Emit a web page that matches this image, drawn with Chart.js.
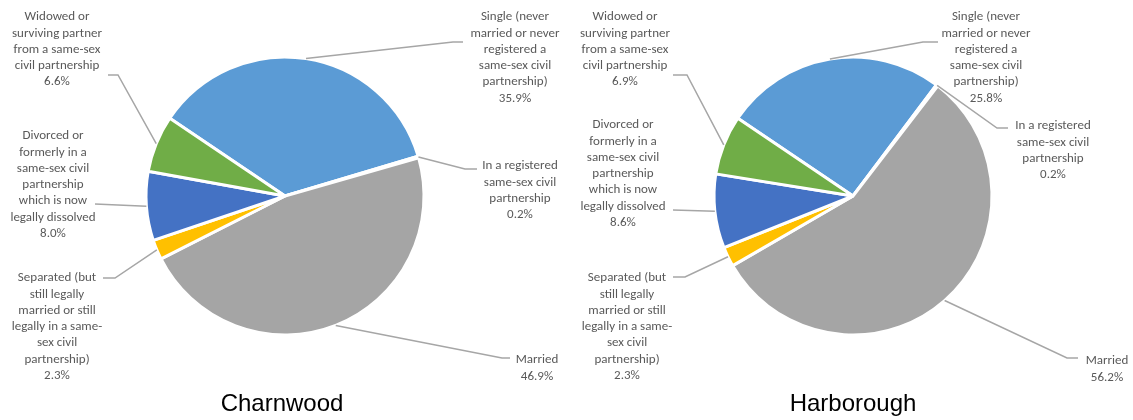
<!DOCTYPE html>
<html>
<head>
<meta charset="utf-8">
<script src="https://cdn.jsdelivr.net/npm/chart.js@4/dist/chart.umd.min.js"></script>
<style>
  html, body { margin: 0; padding: 0; background: #fff; }
  #wrap { position: relative; width: 1133px; height: 420px; overflow: hidden; }
  .pane { position: absolute; top: 0; height: 420px; }
  .pane canvas { display: block; }
  .title {
    position: absolute; top: 389px; width: 300px; text-align: center;
    font: 24px "Liberation Sans", Arial, sans-serif; color: #000;
  }
</style>
</head>
<body>
<div id="wrap">
  <div class="pane" style="left:0;width:566px"><canvas id="charnwood" width="566" height="420"></canvas></div>
  <div class="pane" style="left:566px;width:567px"><canvas id="harborough" width="567" height="420"></canvas></div>
  <div class="title" style="left:132px">Charnwood</div>
  <div class="title" style="left:703px">Harborough</div>
</div>
<script>
// Marital status categories (label lines as they wrap beside the pie)
const categories = [
  ['Single (never', 'married or never', 'registered a', 'same-sex civil', 'partnership)'],
  ['In a registered', 'same-sex civil', 'partnership'],
  ['Married'],
  ['Separated (but', 'still legally', 'married or still', 'legally in a same-', 'sex civil', 'partnership)'],
  ['Divorced or', 'formerly in a', 'same-sex civil', 'partnership', 'which is now', 'legally dissolved'],
  ['Widowed or', 'surviving partner', 'from a same-sex', 'civil partnership']
];
// percentage of residents aged 16+
const charnwoodValues = [35.9, 0.2, 46.9, 2.3, 8.0, 6.6];
const harboroughValues = [25.8, 0.2, 56.2, 2.3, 8.6, 6.9];

const sliceColors = ['#5B9BD5', '#ED7D31', '#A5A5A5', '#FFC000', '#4472C4', '#70AD47'];

const R = 139;
const labelFont = '13px Carlito, Calibri, Lato, sans-serif';
const lineH = 16.3;

// where each callout sits: elbow of the leader line, its end, label centre x and first line y
const charnwoodCallouts = [
  { elbow: [453, 42], end: [463, 42], tx: 515, ty: 17 },
  { elbow: [465, 169], end: [477, 169], tx: 520, ty: 166 },
  { elbow: [502, 358], end: [510, 358], tx: 537, ty: 360 },
  { elbow: [115, 278], end: [103, 278], tx: 57, ty: 278 },
  { elbow: null, end: [95, 204], tx: 53, ty: 136 },
  { elbow: [118, 75], end: [108, 75], tx: 57, ty: 17 }
];
const harboroughCallouts = [
  { elbow: [357, 42], end: [372, 42], tx: 420, ty: 17 },
  { elbow: [431, 128], end: [442, 128], tx: 487, ty: 126 },
  { elbow: [501, 358], end: [512, 358], tx: 541, ty: 361 },
  { elbow: [119, 277], end: [107, 277], tx: 61, ty: 278 },
  { elbow: null, end: [107, 210], tx: 57, ty: 125 },
  { elbow: [121, 75], end: [107, 75], tx: 59, ty: 17 }
];

const calloutPlugin = {
  id: 'callouts',
  afterDraw(chart, args, opts) {
    const ctx = chart.ctx;
    const meta = chart.getDatasetMeta(0);
    const values = chart.data.datasets[0].data;
    ctx.save();
    meta.data.forEach((arc, i) => {
      const c = opts.layout[i];
      const mid = (arc.startAngle + arc.endAngle) / 2;
      const sx = arc.x + Math.cos(mid) * arc.outerRadius;
      const sy = arc.y + Math.sin(mid) * arc.outerRadius;
      ctx.strokeStyle = '#A6A6A6';
      ctx.lineWidth = 1.5;
      ctx.beginPath();
      ctx.moveTo(sx, sy);
      if (c.elbow) ctx.lineTo(c.elbow[0], c.elbow[1]);
      ctx.lineTo(c.end[0], c.end[1]);
      ctx.stroke();

      const lines = categories[i].concat([values[i].toFixed(1) + '%']);
      ctx.fillStyle = '#595959';
      ctx.font = labelFont;
      ctx.textAlign = 'center';
      ctx.textBaseline = 'middle';
      lines.forEach((t, k) => ctx.fillText(t, c.tx, c.ty + k * lineH));
    });
    ctx.restore();
  }
};

function makePie(id, values, layout, cx, cy) {
  const el = document.getElementById(id);
  const w = el.width, h = el.height;
  return new Chart(el, {
    type: 'pie',
    data: {
      labels: categories.map(l => l.join(' ')),
      datasets: [{
        data: values,
        backgroundColor: sliceColors,
        borderColor: '#FFFFFF',
        borderWidth: 3
      }]
    },
    options: {
      responsive: false,
      animation: false,
      rotation: -56,
      radius: R,
      layout: { padding: { left: cx - R, right: w - cx - R, top: cy - R, bottom: h - cy - R } },
      plugins: {
        legend: { display: false },
        tooltip: { enabled: false },
        callouts: { layout: layout }
      }
    },
    plugins: [calloutPlugin]
  });
}

makePie('charnwood', charnwoodValues, charnwoodCallouts, 285, 196);
makePie('harborough', harboroughValues, harboroughCallouts, 287, 196);
</script>
</body>
</html>
